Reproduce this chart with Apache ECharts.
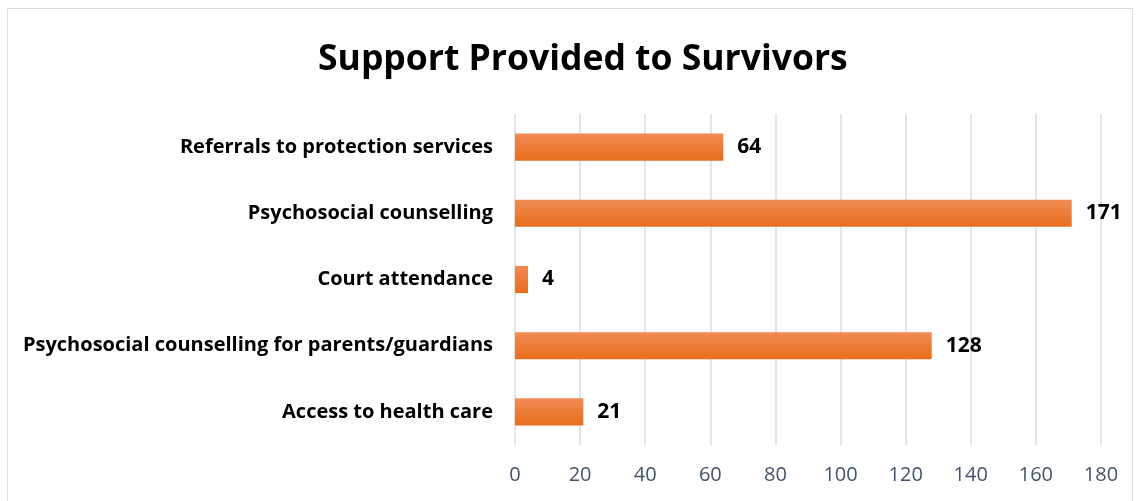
<!DOCTYPE html>
<html><head><meta charset="utf-8">
<script src="https://cdn.jsdelivr.net/npm/echarts@6/dist/echarts.min.js"></script>
<style>html,body{margin:0;padding:0;background:#fff;}#c{width:1136px;height:501px;}
#frame{position:absolute;left:7px;top:8px;width:1126px;height:500px;border:1.5px solid #d9dde3;box-sizing:border-box;pointer-events:none;}</style>
</head><body><div id="c"></div><div id="frame"></div>
<script>
const categories = ["Access to health care","Psychosocial counselling for parents/guardians","Court attendance","Psychosocial counselling","Referrals to protection services"];
const values = [21,128,4,171,64];
const xTicks = [0,20,40,60,80,100,120,140,160,180];

const chart = echarts.init(document.getElementById('c'));
chart.setOption({
  animation:false,
  title:{text:'Support Provided to Survivors',left:313,top:37,
    textStyle:{fontFamily:'Open Sans',fontWeight:'bold',fontSize:35.5,color:'#000'}},
  grid:{left:515,right:35,top:114,bottom:56,containLabel:false},
  xAxis:{type:'value',min:xTicks[0],max:xTicks[xTicks.length-1],interval:20,
    axisLine:{show:false},axisTick:{show:false},
    splitLine:{show:true,lineStyle:{color:'#d9dde3',width:1.5}},
    axisLabel:{color:'#44546a',fontSize:20,fontFamily:'Open Sans',margin:20}},
  yAxis:{type:'category',data:categories,
    axisLine:{show:false},axisTick:{show:false},
    axisLabel:{color:'#000',fontWeight:'bold',fontSize:20,fontFamily:'Open Sans',margin:22,padding:[6,0,0,0]}},
  series:[{type:'bar',data:values,barCategoryGap:'59%',
    itemStyle:{color:new echarts.graphic.LinearGradient(0,0,0,1,[{offset:0,color:'#f08c55'},{offset:1,color:'#e96d1c'}])},
    label:{show:true,position:'right',distance:14,color:'#000',fontWeight:'bold',fontSize:21,fontFamily:'Open Sans',padding:[4,0,0,0]}}]
});
</script></body></html>
